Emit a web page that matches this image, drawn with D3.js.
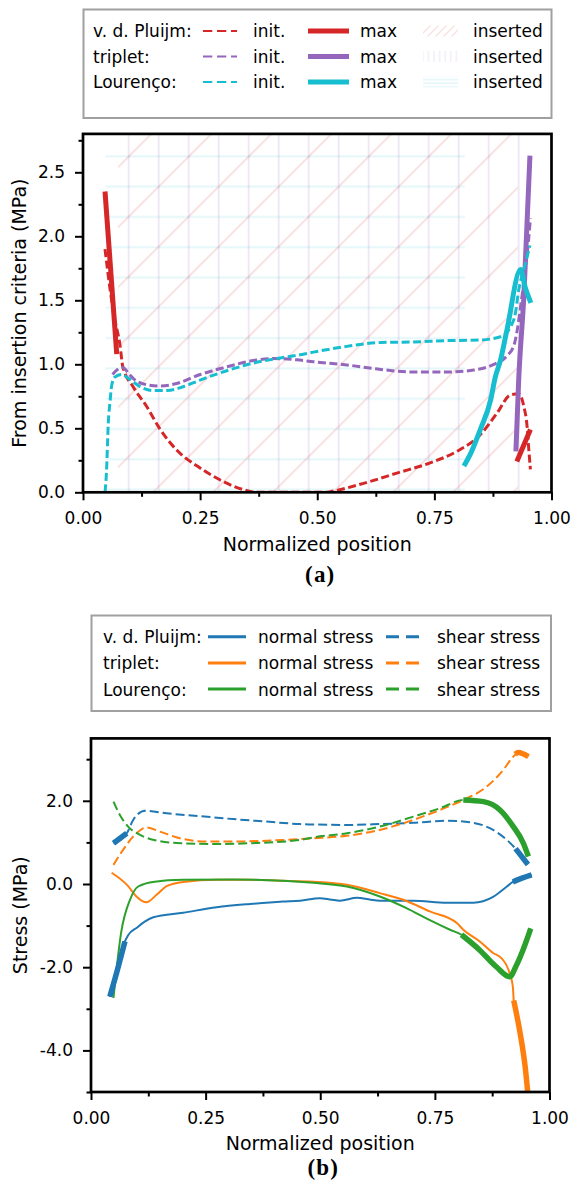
<!DOCTYPE html>
<html><head><meta charset="utf-8">
<script src="https://cdn.jsdelivr.net/npm/d3@7"></script>
<style>body{margin:0;background:#fff} svg{display:block}</style>
</head><body><svg id="c" width="573" height="1187" font-family="DejaVu Sans"></svg>
<script>
// ---------- tick labels ----------
const xTickVals = [0, 0.25, 0.5, 0.75, 1];
const xTickLabels = ["0.00", "0.25", "0.50", "0.75", "1.00"];
const xMinor = [0.125, 0.375, 0.625, 0.875];
const topYTickVals = [0, 0.5, 1, 1.5, 2, 2.5];
const topYTickLabels = ["0.0", "0.5", "1.0", "1.5", "2.0", "2.5"];
const topYMinor = [0.25, 0.75, 1.25, 1.75, 2.25, 2.75];
const botYTickVals = [-4, -2, 0, 2];
const botYTickLabels = ["-4.0", "-2.0", "0.0", "2.0"];
const botYMinor = [-5, -3, -1, 1, 3];

// ---------- legend ----------
const models = ["v. d. Pluijm:", "triplet:", "Lourenço:"];
const topColors = ["#d62728", "#9467bd", "#17becf"];
const botColors = ["#1f77b4", "#ff7f0e", "#2ca02c"];

// ---------- chart (a): insertion criteria ----------
const pluijmInit = [[0.047,1.90],[0.058,1.58],[0.068,1.35],[0.079,1.15],[0.085,0.98],[0.107,0.825],[0.136,0.67],[0.165,0.49],[0.20,0.33],[0.25,0.19],[0.293,0.096],[0.343,0.02],[0.37,0.0],[0.52,0.0],[0.528,0.005],[0.599,0.07],[0.67,0.15],[0.741,0.23],[0.798,0.32],[0.848,0.45],[0.884,0.62],[0.912,0.76],[0.93,0.77],[0.941,0.67],[0.948,0.51],[0.951,0.36],[0.955,0.18]];
const pluijmMaxLeft = [[0.047,2.35],[0.072,1.08]];
const pluijmMaxRight = [[0.926,0.24],[0.955,0.49]];
const tripletInit = [[0.063,0.92],[0.072,0.955],[0.085,0.975],[0.097,0.93],[0.107,0.89],[0.136,0.84],[0.165,0.83],[0.20,0.85],[0.25,0.92],[0.307,0.98],[0.364,1.03],[0.407,1.045],[0.457,1.035],[0.492,1.02],[0.563,0.995],[0.635,0.96],[0.706,0.94],[0.777,0.94],[0.834,0.955],[0.877,1.0],[0.906,1.07],[0.92,1.15],[0.927,1.27],[0.934,1.45],[0.944,1.74],[0.951,1.97],[0.955,2.14]];
const tripletMax = [[0.924,0.32],[0.93,0.88],[0.941,1.53],[0.954,2.63]];
const lourencoInit = [[0.047,0.0],[0.05,0.15],[0.054,0.54],[0.058,0.72],[0.061,0.83],[0.068,0.90],[0.083,0.92],[0.097,0.89],[0.122,0.825],[0.15,0.795],[0.179,0.795],[0.214,0.825],[0.25,0.877],[0.307,0.95],[0.364,1.01],[0.414,1.045],[0.464,1.075],[0.492,1.095],[0.563,1.14],[0.635,1.17],[0.706,1.175],[0.777,1.185],[0.848,1.19],[0.891,1.215],[0.912,1.29],[0.923,1.4],[0.93,1.58],[0.941,1.74],[0.948,1.84],[0.954,1.93]];
const lourencoMax = [[0.813,0.205],[0.827,0.30],[0.848,0.49],[0.87,0.72],[0.88,0.9],[0.891,1.03],[0.905,1.27],[0.934,1.74],[0.944,1.6],[0.956,1.48]];
// inserted regions: [x start, x end, y top]
const pluijmInserted = [0.075, 0.928, 2.8];
const tripletInserted = [0.065, 0.94, 2.8];
const lourencoInserted = [0.048, 0.815, 2.65];

// ---------- chart (b): stresses ----------
const pluijmNormal = [[0.041,-2.71],[0.058,-2.05],[0.074,-1.38],[0.081,-1.23],[0.10,-1.05],[0.118,-0.9],[0.136,-0.8],[0.201,-0.69],[0.274,-0.56],[0.347,-0.48],[0.419,-0.42],[0.456,-0.4],[0.499,-0.34],[0.525,-0.38],[0.543,-0.4],[0.58,-0.33],[0.61,-0.38],[0.63,-0.4],[0.703,-0.4],[0.776,-0.45],[0.834,-0.45],[0.877,-0.31],[0.907,-0.06],[0.92,0.05],[0.94,0.14],[0.961,0.22]];
const pluijmNormalMax = [[[0.041,-2.71],[0.058,-2.05],[0.074,-1.38]], [[0.92,0.05],[0.94,0.14],[0.961,0.22]]];
const pluijmShear = [[0.049,0.98],[0.078,1.22],[0.092,1.54],[0.118,1.76],[0.165,1.70],[0.238,1.63],[0.31,1.56],[0.383,1.50],[0.456,1.44],[0.485,1.43],[0.558,1.42],[0.63,1.44],[0.703,1.47],[0.776,1.52],[0.834,1.47],[0.877,1.30],[0.907,1.06],[0.926,0.85],[0.953,0.47]];
const pluijmShearMax = [[[0.049,0.98],[0.078,1.22]], [[0.926,0.85],[0.953,0.47]]];
const tripletNormal = [[0.045,0.27],[0.081,-0.05],[0.099,-0.3],[0.121,-0.44],[0.143,-0.26],[0.165,-0.05],[0.201,0.05],[0.274,0.1],[0.347,0.1],[0.412,0.08],[0.485,0.055],[0.558,-0.02],[0.63,-0.22],[0.681,-0.38],[0.739,-0.66],[0.798,-0.94],[0.812,-1.1],[0.848,-1.38],[0.877,-1.66],[0.895,-1.78],[0.913,-2.14],[0.92,-2.46],[0.922,-2.8],[0.936,-3.59],[0.947,-4.4],[0.955,-5.3]];
const tripletNormalMax = [[[0.922,-2.8],[0.936,-3.59],[0.947,-4.4],[0.955,-5.3]]];
const tripletShear = [[0.049,0.46],[0.07,0.82],[0.099,1.22],[0.121,1.36],[0.15,1.26],[0.194,1.10],[0.252,1.02],[0.31,1.02],[0.383,1.04],[0.456,1.08],[0.485,1.10],[0.558,1.16],[0.63,1.30],[0.703,1.54],[0.761,1.78],[0.812,2.02],[0.863,2.34],[0.899,2.74],[0.921,3.06],[0.932,3.16],[0.954,3.06]];
const tripletShearMax = [[[0.925,3.12],[0.932,3.16],[0.954,3.06]]];
const lourencoNormal = [[0.049,-2.74],[0.066,-1.15],[0.085,-0.38],[0.103,-0.06],[0.139,0.055],[0.201,0.1],[0.31,0.11],[0.419,0.08],[0.485,0.03],[0.558,-0.06],[0.63,-0.3],[0.688,-0.58],[0.739,-0.87],[0.783,-1.1],[0.808,-1.22],[0.848,-1.59],[0.884,-1.99],[0.913,-2.23],[0.928,-1.95],[0.942,-1.59],[0.959,-1.07]];
const lourencoNormalMax = [[[0.808,-1.22],[0.848,-1.59],[0.884,-1.99],[0.913,-2.23],[0.928,-1.95],[0.942,-1.59],[0.959,-1.07]]];
const lourencoShear = [[0.049,1.98],[0.063,1.66],[0.081,1.38],[0.107,1.18],[0.15,1.03],[0.201,0.98],[0.274,0.96],[0.347,0.98],[0.456,1.06],[0.485,1.12],[0.558,1.22],[0.63,1.38],[0.703,1.62],[0.761,1.82],[0.812,2.02],[0.856,1.98],[0.892,1.78],[0.921,1.38],[0.943,0.98],[0.954,0.66]];
const lourencoShearMax = [[[0.812,2.02],[0.856,1.98],[0.892,1.78],[0.921,1.38],[0.943,0.98],[0.954,0.66]]];

// =========================================================
const svg = d3.select("#c");
const defs = svg.append("defs");
const FONT = "DejaVu Sans";

function pattern(id, w, h, px, py, paths, color, sw) {
  const p = defs.append("pattern").attr("id", id).attr("patternUnits", "userSpaceOnUse")
    .attr("width", w).attr("height", h).attr("x", px).attr("y", py);
  paths.forEach(d => p.append("path").attr("d", d).attr("fill", "none").attr("stroke", color).attr("stroke-width", sw));
}
const pinkC = "rgba(214,39,40,0.16)", purpC = "rgba(148,103,189,0.15)", cyanC = "rgba(23,190,207,0.12)";
// plot hatches
pattern("hPink", 60, 60, 15.3, 0, ["M-10,40L40,-10", "M20,70L70,20"], pinkC, 1.6);
pattern("hPurp", 30, 30, -6.3, 0, ["M15,-1V31"], purpC, 2);
pattern("hCyan", 30, 30.3, 0, -10.2, ["M-1,15H31"], cyanC, 2);
// legend hatches
pattern("lPink", 8, 8, 0, 0, ["M-2,10L10,-2", "M-4,4L4,-4", "M4,12L12,4"], "rgba(214,39,40,0.14)", 1.3);
pattern("lPurp", 5.6, 10, 0, 0, ["M2.8,-1V11"], "rgba(148,103,189,0.12)", 1.5);
pattern("lCyan", 10, 3.7, 0, 0, ["M-1,1.85H11"], "rgba(23,190,207,0.14)", 1.3);

function drawAxes(x, y, yTV, yTL, yMinor) {
  const [xa, xb] = x.range();
  const [yb, ya] = y.range();
  const style = s => {
    s.attr("font-size", 17).attr("font-family", FONT);
    s.select(".domain").remove();
    s.selectAll("line").attr("stroke", "#000").attr("stroke-width", 2);
    s.selectAll("text").attr("fill", "#000");
  };
  svg.append("g").attr("transform", `translate(0,${yb})`)
    .call(d3.axisBottom(x).tickValues(xTickVals).tickFormat(d => xTickLabels[xTickVals.indexOf(d)]).tickSize(8).tickPadding(12)).call(style);
  svg.append("g").attr("transform", `translate(0,${yb})`)
    .call(d3.axisBottom(x).tickValues(xMinor).tickFormat("").tickSize(4.5)).call(style);
  svg.append("g").attr("transform", `translate(${xa},0)`)
    .call(d3.axisLeft(y).tickValues(yTV).tickFormat(d => yTL[yTV.indexOf(d)]).tickSize(8).tickPadding(10)).call(style);
  svg.append("g").attr("transform", `translate(${xa},0)`)
    .call(d3.axisLeft(y).tickValues(yMinor).tickFormat("").tickSize(4.5)).call(style);
}
function frame(x, y) {
  const [xa, xb] = x.range(); const [yb, ya] = y.range();
  svg.append("rect").attr("x", xa).attr("y", ya).attr("width", xb - xa).attr("height", yb - ya)
    .attr("fill", "none").attr("stroke", "#000").attr("stroke-width", 2.7);
}
function clip(id, x, y) {
  const [xa, xb] = x.range(); const [yb, ya] = y.range();
  defs.append("clipPath").attr("id", id).append("rect").attr("x", xa).attr("y", ya).attr("width", xb - xa).attr("height", yb - ya);
}
function label(x, y, tx, ty, yLabel, xLabel, panel, panelY) {
  const [xa, xb] = x.range(); const [yb, ya] = y.range();
  svg.append("text").attr("x", (xa + xb) / 2).attr("y", tx).attr("text-anchor", "middle")
    .attr("font-size", 19).attr("font-family", FONT).text(xLabel);
  svg.append("text").attr("transform", `translate(${ty},${(ya + yb) / 2}) rotate(-90)`).attr("text-anchor", "middle")
    .attr("font-size", 19).attr("font-family", FONT).text(yLabel);
  svg.append("text").attr("x", (xa + xb) / 2 + 3).attr("y", panelY).attr("text-anchor", "middle")
    .attr("font-size", 23).attr("font-weight", "bold").attr("letter-spacing", 1.2)
    .attr("font-family", "Liberation Serif").text(panel);
}

// ================= chart (a) =================
const xA = d3.scaleLinear().domain([0, 1]).range([83, 551.5]);
const yA = d3.scaleLinear().domain([0, 2.8]).range([492.3, 133.9]);
clip("clipA", xA, yA);
const gA = svg.append("g").attr("clip-path", "url(#clipA)");
[[lourencoInserted, "hCyan"], [tripletInserted, "hPurp"], [pluijmInserted, "hPink"]].forEach(([r, pid]) => {
  gA.append("rect").attr("x", xA(r[0])).attr("y", yA(r[2])).attr("width", xA(r[1]) - xA(r[0]))
    .attr("height", yA(0) - yA(r[2])).attr("fill", `url(#${pid})`);
});
const lineA = d3.line().x(d => xA(d[0])).y(d => yA(d[1])).curve(d3.curveMonotoneX);
function pathA(data, color, w, dash) {
  gA.append("path").datum(data).attr("d", lineA).attr("fill", "none").attr("stroke", color)
    .attr("stroke-width", w).attr("stroke-dasharray", dash || null).attr("stroke-linejoin", "round");
}
pathA(pluijmInit, topColors[0], 3, "8,3.5");
pathA(pluijmMaxLeft, topColors[0], 5);
pathA(pluijmMaxRight, topColors[0], 5);
pathA(tripletInit, topColors[1], 3, "8,3.5");
pathA(tripletMax, topColors[1], 5);
pathA(lourencoInit, topColors[2], 3, "8,3.5");
pathA(lourencoMax, topColors[2], 5);
drawAxes(xA, yA, topYTickVals, topYTickLabels, topYMinor);
frame(xA, yA);
label(xA, yA, 550.5, 26, "From insertion criteria (MPa)", "Normalized position", "(a)", 582);

// legend (a)
svg.append("rect").attr("x", 83.5).attr("y", 9.5).attr("width", 468).attr("height", 108.5)
  .attr("fill", "#fff").attr("stroke", "#a0a0a0").attr("stroke-width", 2);
const hatchIds = ["lPink", "lPurp", "lCyan"];
models.forEach((m, i) => {
  const cy = 31 + i * 25.5;
  const g = svg.append("g").attr("font-size", 17).attr("font-family", FONT);
  g.append("text").attr("x", 93).attr("y", cy + 6.3).text(m);
  g.append("line").attr("x1", 203).attr("x2", 237).attr("y1", cy).attr("y2", cy)
    .attr("stroke", topColors[i]).attr("stroke-width", 2).attr("stroke-dasharray", "9.3,4.7");
  g.append("text").attr("x", 253).attr("y", cy + 6.3).text("init.");
  g.append("line").attr("x1", 308).attr("x2", 349).attr("y1", cy).attr("y2", cy)
    .attr("stroke", topColors[i]).attr("stroke-width", 5);
  g.append("text").attr("x", 360).attr("y", cy + 6.3).text("max");
  g.append("rect").attr("x", 423).attr("y", cy - 5.5).attr("width", 35).attr("height", 11)
    .attr("fill", `url(#${hatchIds[i]})`);
  g.append("text").attr("x", 473).attr("y", cy + 6.3).text("inserted");
});

// ================= chart (b) =================
const xB = d3.scaleLinear().domain([0, 1]).range([91, 549.5]);
const yB = d3.scaleLinear().domain([-5, 3.5]).range([1092, 738.4]);
clip("clipB", xB, yB);
const gB = svg.append("g").attr("clip-path", "url(#clipB)");
const lineB = d3.line().x(d => xB(d[0])).y(d => yB(d[1])).curve(d3.curveMonotoneX);
function pathB(data, color, w, dash) {
  gB.append("path").datum(data).attr("d", lineB).attr("fill", "none").attr("stroke", color)
    .attr("stroke-width", w).attr("stroke-dasharray", dash || null).attr("stroke-linejoin", "round");
}
const bSeries = [
  [pluijmNormal, pluijmNormalMax, pluijmShear, pluijmShearMax],
  [tripletNormal, tripletNormalMax, tripletShear, tripletShearMax],
  [lourencoNormal, lourencoNormalMax, lourencoShear, lourencoShearMax]
];
bSeries.forEach((s, i) => {
  pathB(s[0], botColors[i], 2);
  pathB(s[2], botColors[i], 2, "9,4");
});
bSeries.forEach((s, i) => {
  s[1].forEach(seg => pathB(seg, botColors[i], 5.5));
  s[3].forEach(seg => pathB(seg, botColors[i], 5.5));
});
drawAxes(xB, yB, botYTickVals, botYTickLabels, botYMinor);
frame(xB, yB);
label(xB, yB, 1150, 26.5, "Stress (MPa)", "Normalized position", "(b)", 1175);

// legend (b)
svg.append("rect").attr("x", 91.5).attr("y", 615.5).attr("width", 459.5).attr("height", 95.5)
  .attr("fill", "#fff").attr("stroke", "#a0a0a0").attr("stroke-width", 2);
models.forEach((m, i) => {
  const cy = 636.7 + i * 26.2;
  const g = svg.append("g").attr("font-size", 17).attr("font-family", FONT);
  g.append("text").attr("x", 103).attr("y", cy + 6.5).text(m);
  g.append("line").attr("x1", 208).attr("x2", 246).attr("y1", cy).attr("y2", cy)
    .attr("stroke", botColors[i]).attr("stroke-width", 3);
  g.append("text").attr("x", 258).attr("y", cy + 6.5).text("normal stress");
  g.append("line").attr("x1", 386).attr("x2", 420).attr("y1", cy).attr("y2", cy)
    .attr("stroke", botColors[i]).attr("stroke-width", 3).attr("stroke-dasharray", "13,7");
  g.append("text").attr("x", 437).attr("y", cy + 6.5).text("shear stress");
});
</script></body></html>
